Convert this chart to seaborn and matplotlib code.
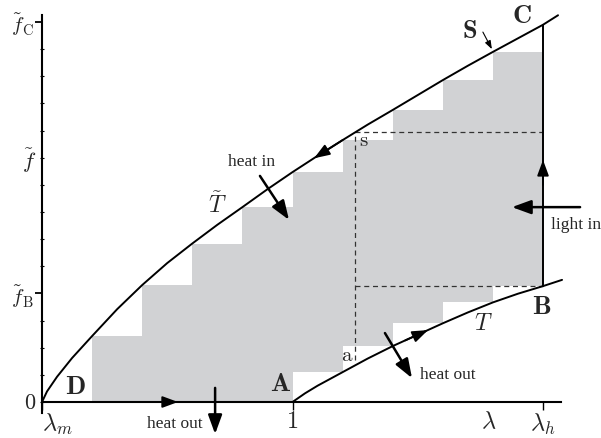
import matplotlib
matplotlib.use("Agg")
import matplotlib.pyplot as plt
import seaborn as sns
import numpy as np
import pandas as pd

# Curves (lambda, f~)
upper_x = [0, 0.02, 0.06, 0.12, 0.2, 0.3, 0.4, 0.5, 0.6, 0.7, 0.8, 0.9, 1.0, 1.1, 1.2, 1.3, 1.4, 1.5, 1.6, 1.7, 1.8, 1.9, 2.0, 2.06]
upper_y = [0, 0.39, 0.93, 1.62, 2.43, 3.42, 4.31, 5.12, 5.84, 6.53, 7.18, 7.84, 8.47, 9.07, 9.65, 10.22, 10.76, 11.31, 11.86, 12.39, 12.9, 13.4, 13.9, 14.25]
lower_x = [1.0, 1.05, 1.1, 1.2, 1.3, 1.4, 1.5, 1.6, 1.7, 1.8, 1.9, 2.0, 2.076]
lower_y = [0, 0.32, 0.6, 1.1, 1.6, 2.06, 2.48, 2.9, 3.3, 3.67, 3.99, 4.27, 4.5]

# staircase (grey region)
step_left = [0.2, 0.4, 0.6, 0.8, 1.0, 1.2, 1.4, 1.6, 1.8]
step_top = [2.43, 4.31, 5.84, 7.18, 8.47, 9.65, 10.76, 11.86, 12.9]
step_bottom = [0, 0, 0, 0, 1.1, 2.06, 2.9, 3.68, 4.27]
step_w = 0.2

lam_s = 1.25
f_s = 9.93
f_a = 1.55
lam_h = 2.0
f_B = 4.27
f_C = 13.9

sns.set_theme(style="white")
plt.rcParams['font.family'] = ['Liberation Serif', 'DejaVu Serif']
plt.rcParams['mathtext.fontset'] = 'cm'

fig = plt.figure(figsize=(6.01, 4.38), dpi=100)
ax = fig.add_axes([0, 0, 1, 1])
ax.set_xlim(-0.1677, 2.2315)
ax.set_ylim(-1.3265, 14.812)

# grey steps
ax.bar(step_left, np.array(step_top) - np.array(step_bottom), bottom=step_bottom,
       width=step_w, align='edge', color='#d1d2d4', linewidth=0, zorder=1)

up = pd.DataFrame({'x': upper_x, 'y': upper_y})
lo = pd.DataFrame({'x': lower_x, 'y': lower_y})
sns.lineplot(data=up, x='x', y='y', color='black', lw=1.4, sort=False, estimator=None, ax=ax, zorder=3)
sns.lineplot(data=lo, x='x', y='y', color='black', lw=1.4, sort=False, estimator=None, ax=ax, zorder=3)

# vertical B-C
ax.plot([lam_h, lam_h], [f_B, f_C], color='black', lw=1.4, zorder=3)

# dashed guides
dash = dict(color='#333333', lw=0.9, ls=(0, (4, 3)), zorder=2)
ax.plot([lam_s, lam_s], [f_a, f_s], **dash)
ax.plot([lam_s, lam_h], [f_s, f_s], **dash)
ax.plot([lam_s, lam_h], [f_B, f_B], **dash)

# axes
for s in ['top', 'right']:
    ax.spines[s].set_visible(False)
ax.spines['left'].set_position(('data', 0))
ax.spines['bottom'].set_position(('data', 0))
ax.spines['left'].set_bounds(-0.4, 14.26)
ax.spines['bottom'].set_bounds(0, 2.072)
for s in ['left', 'bottom']:
    ax.spines[s].set_linewidth(1.5)
    ax.spines[s].set_color('black')
    ax.spines[s].set_zorder(4)

ax.set_xlabel('')
ax.set_ylabel('')
ax.set_yticks([4, 14], [r'$\tilde{f}_{\rm B}$', r'$\tilde{f}_{\rm C}$'])
ax.set_yticks(range(15), ['$0$' if i == 0 else (r'$\tilde{f}$' if i == 9 else '') for i in range(15)], minor=True)
ax.tick_params(axis='y', which='major', direction='out', length=5, width=1.3, labelsize=15, pad=1, color='black', left=True)
ax.tick_params(axis='y', which='minor', direction='inout', length=3, width=0.8, labelsize=16, pad=3, color='black', left=True)
ax.set_xticks([0, 1, 2], [r'$\lambda_m$', '$1$', r'$\lambda_h$'])
ax.set_xticks([1.785], [r'$\lambda$'], minor=True)
ax.tick_params(axis='x', which='major', direction='out', length=6, width=1.0, labelsize=17.5, pad=1, color='black', bottom=True)
ax.tick_params(axis='x', which='minor', length=0, labelsize=17.5, pad=7, bottom=True)
for lbl in ax.get_xticklabels():
    if lbl.get_text() == r'$\lambda_m$':
        lbl.set_horizontalalignment('left')
ax.grid(False)


def arrow(tail, head, hl=0.95, hw=0.35, lw=1.3):
    ax.annotate('', xy=head, xytext=tail, zorder=5,
                arrowprops=dict(arrowstyle=f'-|>,head_length={hl},head_width={hw}',
                                color='black', lw=lw, shrinkA=0, shrinkB=0, mutation_scale=10))


# direction arrows on the cycle
arrow((1.2, 9.65), (1.086, 8.98))
arrow((1.45, 2.27), (1.541, 2.65))
arrow((0.4, 0), (0.543, 0))
arrow((2.0, 8.0), (2.0, 8.92))

# heat / light arrows
arrow((0.870, 8.33), (0.986, 6.71), hl=1.15, hw=0.42, lw=1.8)
arrow((0.691, 0.52), (0.691, -1.18), hl=1.15, hw=0.42, lw=1.8)
arrow((1.369, 2.54), (1.477, 0.88), hl=1.15, hw=0.42, lw=1.8)
arrow((2.148, 7.18), (1.876, 7.18), hl=1.15, hw=0.42, lw=1.8)
arrow((1.760, 13.63), (1.796, 13.0), hl=0.5, hw=0.18, lw=0.8)

big = dict(fontsize=19, ha='center', va='center', zorder=6)
ax.text(0.135, 0.52, r'$\mathbf{D}$', **big)
ax.text(0.954, 0.63, r'$\mathbf{A}$', **big)
ax.text(1.996, 3.46, r'$\mathbf{B}$', **big)
ax.text(1.916, 14.19, r'$\mathbf{C}$', **big)
ax.text(1.705, 13.63, r'$\mathbf{S}$', **big)
ax.text(0.699, 7.25, r'$\tilde{T}$', fontsize=17, ha='center', va='center')
ax.text(1.760, 2.84, r'$T$', fontsize=17, ha='center', va='center')
ax.text(1.285, 9.58, r'$\mathrm{s}$', fontsize=15, ha='center', va='center')
ax.text(1.218, 1.66, r'$\mathrm{a}$', fontsize=15, ha='center', va='center')

small = dict(fontsize=12.5, ha='center', va='center')
ax.text(0.838, 8.84, 'heat in', **small)
ax.text(0.531, -0.81, 'heat out', **small)
ax.text(1.621, 0.99, 'heat out', **small)
ax.text(2.132, 6.52, 'light in', **small)

fig.savefig('out.png', dpi=100)
